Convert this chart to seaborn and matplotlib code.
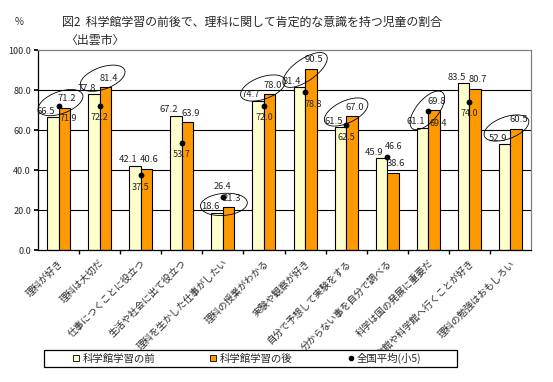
"""図2 科学館学習の前後で、理科に関して肯定的な意識を持つ児童の割合 (出雲市) - bar chart recreation."""

import matplotlib
matplotlib.use("Agg")
import matplotlib.pyplot as plt
import numpy as np
import pandas as pd
import seaborn as sns
from matplotlib.lines import Line2D
from matplotlib.patches import Ellipse, Rectangle
from matplotlib.transforms import ScaledTranslation

categories = [
    "理科が好き", "理科は大切だ", "仕事につくことに役立つ", "生活や社会に出て役立つ",
    "理科を生かした仕事がしたい", "理科の授業がわかる", "実験や観察が好き",
    "自分で予想して実験をする", "分からない事を自分で調べる", "科学は国の発展に重要だ",
    "博物館や科学館へ行くことが好き", "理科の勉強はおもしろい",
]
before = [66.5, 77.8, 42.1, 67.2, 18.6, 74.7, 81.4, 61.5, 45.9, 61.1, 83.5, 52.9]
after = [71.2, 81.4, 40.6, 63.9, 21.3, 78.0, 90.5, 67.0, 38.6, 69.8, 80.7, 60.5]
national = [71.9, 72.2, 37.5, 53.7, 26.4, 72.0, 78.8, 62.5, 46.6, 69.4, 74.0, np.nan]

series_names = ["科学館学習の前", "科学館学習の後"]
national_name = "全国平均(小5)"
yticks = [0, 20, 40, 60, 80, 100]

COL_BEFORE = "#FFFFCC"
COL_AFTER = "#FF9900"

# label tweaks (pixels) for the national-average numbers
NAT_DX = {0: 10, 9: 10, 6: 8, 8: 6}
NAT_DY = {4: 11, 8: 10}
# highlight ellipses: tilt (deg) and offset (px) from the "after" bar top
ELL_ANGLE = {0: 20, 1: 20, 4: 5, 5: 20, 6: 35, 7: 25, 9: 50, 11: 20}
ELL_DX = {0: 2, 1: 3, 4: 1, 5: -1, 6: 0, 7: 0, 9: -1, 11: -4}
ELL_DY = {0: 5, 1: 9, 4: 3, 5: 6, 6: -1, 7: 4, 9: 0, 11: 1}
ELL_W = {6: 0.52}

sns.set_theme(style="white")
plt.rcParams["font.family"] = ["Noto Sans CJK JP", "DejaVu Sans"]

long_df = pd.DataFrame({
    "category": categories * 2,
    "series": [series_names[0]] * len(categories) + [series_names[1]] * len(categories),
    "value": before + after,
})

fig = plt.figure(figsize=(5.53, 3.82), dpi=100)
ax = fig.add_axes([38 / 553, 132 / 382, 493 / 553, 200 / 382])

sns.barplot(
    data=long_df, x="category", y="value", hue="series",
    order=categories, hue_order=series_names,
    palette={series_names[0]: COL_BEFORE, series_names[1]: COL_AFTER},
    saturation=1, width=0.56, gap=0, edgecolor="black", linewidth=0.8,
    legend=False, ax=ax, zorder=2,
)
n_lines = len(ax.lines)
sns.pointplot(
    x=categories, y=national, order=categories, color="black",
    markers="o", linestyle="none", errorbar=None, ax=ax, zorder=4,
)
for ln in ax.lines[n_lines:]:
    ln.set_markersize(4.2)
    ln.set_markeredgewidth(0)

ax.set_xlim(-0.5, len(categories) - 0.5)
ax.set_ylim(0, 100)
ax.set_yticks(yticks)
ax.set_yticklabels([f"{t:.1f}" for t in yticks], fontsize=6.5)
for y in yticks[1:-1]:
    ax.axhline(y, color="black", lw=0.8, zorder=1)

ax.set_xlabel("")
ax.set_ylabel("")
ax.set_xticks(range(len(categories)))
ax.set_xticklabels(categories, rotation=45, ha="right", va="top",
                   rotation_mode="anchor", fontsize=6.8)
ax.tick_params(axis="x", length=0, pad=6)
ax.set_xticks(np.arange(len(categories) - 1) + 0.5, minor=True)
ax.tick_params(axis="x", which="minor", length=3, color="black", direction="out", bottom=True)
ax.tick_params(axis="y", length=3, color="black", direction="out", left=True, pad=2)

for side in ["left", "bottom"]:
    ax.spines[side].set_color("black")
    ax.spines[side].set_linewidth(0.9)
for side in ["top", "right"]:
    ax.spines[side].set_color("#808080")
    ax.spines[side].set_linewidth(0.9)

# value labels on the bars
for container, vals, dx, dy in zip(ax.containers[:2], [before, after], [-7, 3], [6, 9]):
    for rect, v in zip(container, vals):
        ax.annotate(f"{v:.1f}", (rect.get_x() + rect.get_width() / 2, rect.get_height()),
                    xytext=(dx, dy), textcoords="offset pixels",
                    ha="center", va="center", fontsize=6.8, zorder=5)

# national-average labels
for i, v in enumerate(national):
    if np.isnan(v):
        continue
    ax.annotate(f"{v:.1f}", (i, v), xytext=(NAT_DX.get(i, 0), NAT_DY.get(i, -12)),
                textcoords="offset pixels", ha="center", va="center",
                fontsize=6.5, zorder=5)

# ellipses where the score rose after the visit
for i, (b, a) in enumerate(zip(before, after)):
    if a <= b:
        continue
    trans = fig.dpi_scale_trans + ScaledTranslation(i, a, ax.transData)
    ax.add_patch(Ellipse((ELL_DX.get(i, 0) / 100, ELL_DY.get(i, 4) / 100),
                         ELL_W.get(i, 0.47), 0.22,
                         angle=ELL_ANGLE.get(i, 20), transform=trans, fill=False,
                         edgecolor="black", lw=0.6, zorder=6, clip_on=False))

fig.text(15 / 553, 1 - 22 / 382, "%", fontsize=7, ha="left", va="center")
fig.text(62 / 553, 1 - 22 / 382,
         "図2  科学館学習の前後で、理科に関して肯定的な意識を持つ児童の割合",
         fontsize=8.6, ha="left", va="center")
fig.text(66 / 553, 1 - 40 / 382, "〈出雲市〉", fontsize=8.6, ha="left", va="center")

# legend box at the bottom
fig.add_artist(Rectangle((44 / 553, 15 / 382), 413 / 553, 17 / 382,
                         transform=fig.transFigure, facecolor="white",
                         edgecolor="black", lw=0.9, zorder=8))
handles = [
    Line2D([], [], ls="none", marker="s", markersize=5, markerfacecolor=COL_BEFORE,
           markeredgecolor="black", markeredgewidth=0.6),
    Line2D([], [], ls="none", marker="s", markersize=5, markerfacecolor=COL_AFTER,
           markeredgecolor="black", markeredgewidth=0.6),
    Line2D([], [], ls="none", marker="o", markersize=3, color="black"),
]
leg = fig.legend(
    handles, series_names + [national_name], ncol=3,
    loc="center left", bbox_to_anchor=(72 / 553, 23.5 / 382),
    fontsize=7.5, frameon=False, handlelength=0.8, handletextpad=0.2,
    columnspacing=5.2, borderpad=0, borderaxespad=0,
)
leg.set_zorder(9)

fig.savefig("out.png", dpi=100)
